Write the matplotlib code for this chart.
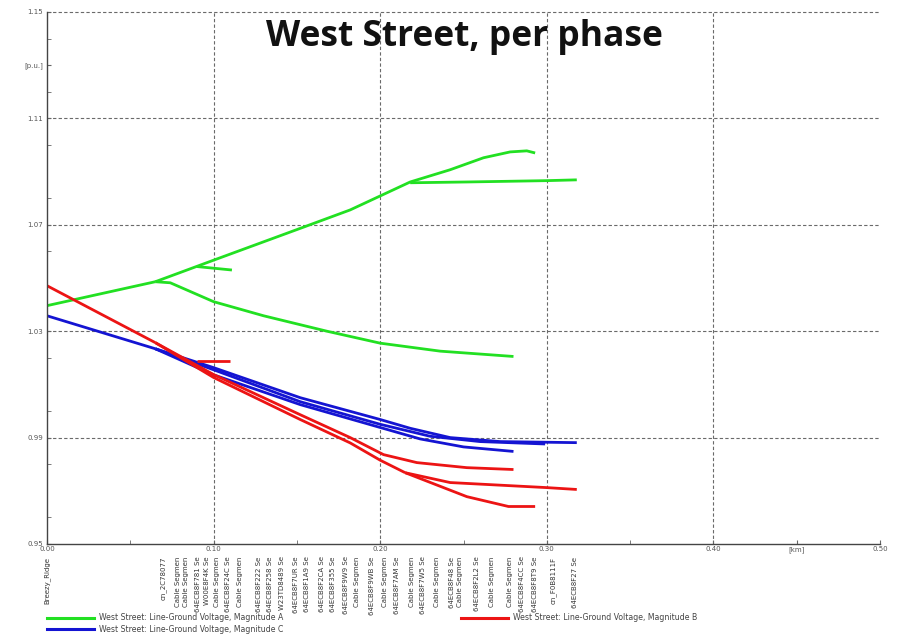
import matplotlib
matplotlib.use("Agg")
import matplotlib.pyplot as plt
from matplotlib.lines import Line2D
from matplotlib.ticker import FixedLocator, MultipleLocator

# ---- feeder voltage profile data (distance in km, voltage in p.u.) ----
# Phase A
a_trunk_km = [0.0, 0.065]
a_trunk_pu = [1.0396, 1.0486]
a_upper_km = [0.065, 0.10, 0.15, 0.182, 0.218, 0.242, 0.262, 0.278, 0.288, 0.293]
a_upper_pu = [1.0486, 1.0567, 1.0682, 1.0756, 1.0861, 1.0907, 1.0952, 1.0974, 1.0978, 1.0970]
a_flat_km = [0.218, 0.252, 0.300, 0.318]
a_flat_pu = [1.0858, 1.0861, 1.0866, 1.0869]
a_lower_km = [0.065, 0.074, 0.10, 0.13, 0.168, 0.20, 0.236, 0.28]
a_lower_pu = [1.0486, 1.0482, 1.0411, 1.0358, 1.0300, 1.0255, 1.0225, 1.0205]
a_spur_km = [0.090, 0.111]
a_spur_pu = [1.0543, 1.0530]

# Phase C
c_trunk_km = [0.0, 0.065]
c_trunk_pu = [1.0358, 1.0234]
c_upper_km = [0.065, 0.10, 0.152, 0.20, 0.218, 0.242, 0.272, 0.318]
c_upper_pu = [1.0234, 1.0163, 1.0050, 0.9968, 0.9935, 0.9900, 0.9885, 0.9881]
c_mid_km = [0.065, 0.10, 0.152, 0.20, 0.23, 0.26, 0.299]
c_mid_pu = [1.0234, 1.0155, 1.0035, 0.9950, 0.9905, 0.9885, 0.9876]
c_lower_km = [0.065, 0.10, 0.152, 0.20, 0.224, 0.25, 0.28]
c_lower_pu = [1.0234, 1.0136, 1.0024, 0.9938, 0.9895, 0.9865, 0.9848]

# Phase B
b_trunk_km = [0.0, 0.065]
b_trunk_pu = [1.0471, 1.0257]
b_upper_km = [0.065, 0.10, 0.152, 0.182, 0.202, 0.222, 0.252, 0.28]
b_upper_pu = [1.0257, 1.0137, 0.9986, 0.9900, 0.9836, 0.9806, 0.9787, 0.9780]
b_shared_km = [0.065, 0.10, 0.152, 0.182, 0.20, 0.215]
b_shared_pu = [1.0257, 1.0126, 0.9968, 0.9880, 0.9815, 0.9768]
b_flat_km = [0.215, 0.242, 0.30, 0.318]
b_flat_pu = [0.9768, 0.9731, 0.9712, 0.9705]
b_down_km = [0.215, 0.252, 0.277, 0.293]
b_down_pu = [0.9768, 0.9678, 0.9641, 0.9641]
b_spur_km = [0.090, 0.110]
b_spur_pu = [1.0188, 1.0188]

# Node names along the feeder
node_km = [0.0, 0.0696, 0.0786, 0.0834, 0.0906, 0.096, 0.102, 0.1086, 0.1158,
           0.1272, 0.1338, 0.141, 0.1494, 0.156, 0.165, 0.1716, 0.1794, 0.186,
           0.195, 0.2028, 0.21, 0.219, 0.2256, 0.234, 0.243, 0.2478, 0.258,
           0.267, 0.2778, 0.285, 0.2928, 0.3036, 0.3168]
node_names = ["Breezy_Ridge", "cn_2C78077", "Cable Segmen", "Cable Segmen",
              "64ECB8F781 Se", "W00E8F4K Se", "Cable Segmen", "64ECB8F24C Se",
              "Cable Segmen", "64ECB8F222 Se", "64ECB8F258 Se", "W23TD8489 Se",
              "64ECB8F7UR Se", "64ECB8F1A9 Se", "64ECB8F2CA Se", "64ECB8F355 Se",
              "64ECB8F9W9 Se", "Cable Segmen", "64ECB8F9WB Se", "Cable Segmen",
              "64ECB8F7AM Se", "Cable Segmen", "64ECB8F7W5 Se", "Cable Segmen",
              "64ECB8F48 Se", "Cable Segmen", "64ECB8F2L2 Se", "Cable Segmen",
              "Cable Segmen", "64ECB8F4CC Se", "64ECB8F8T9 Se", "cn_F0B8111F",
              "64ECB8F27 Se"]

x_tick_values = [0.0, 0.1, 0.2, 0.3, 0.4, 0.45, 0.5]
x_tick_labels = ["0.00", "0.10", "0.20", "0.30", "0.40", "[km]", "0.50"]
y_tick_values = [0.95, 0.99, 1.03, 1.07, 1.11, 1.13, 1.15]
y_tick_labels = ["0.95", "0.99", "1.03", "1.07", "1.11", "[p.u.]", "1.15"]

legend_labels = ["West Street: Line-Ground Voltage, Magnitude A",
                 "West Street: Line-Ground Voltage, Magnitude C",
                 "West Street: Line-Ground Voltage, Magnitude B"]

GREEN = "#22e022"
BLUE = "#1414d2"
RED = "#ec1414"
GRID = "#6a6a6a"
TXT = "#555555"

fig = plt.figure(figsize=(8.99, 6.35), dpi=100)
ax = fig.add_axes([47 / 899, 1 - 544 / 635, (880 - 47) / 899, (544 - 12) / 635])

lw = 2.0
for km, pu in [(a_trunk_km, a_trunk_pu), (a_upper_km, a_upper_pu),
               (a_flat_km, a_flat_pu), (a_lower_km, a_lower_pu),
               (a_spur_km, a_spur_pu)]:
    ax.plot(km, pu, color=GREEN, lw=lw, solid_capstyle="butt")
for km, pu in [(c_trunk_km, c_trunk_pu), (c_upper_km, c_upper_pu),
               (c_mid_km, c_mid_pu), (c_lower_km, c_lower_pu)]:
    ax.plot(km, pu, color=BLUE, lw=lw, solid_capstyle="butt")
for km, pu in [(b_trunk_km, b_trunk_pu), (b_upper_km, b_upper_pu),
               (b_shared_km, b_shared_pu), (b_flat_km, b_flat_pu),
               (b_down_km, b_down_pu), (b_spur_km, b_spur_pu)]:
    ax.plot(km, pu, color=RED, lw=lw, solid_capstyle="butt")

ax.set_xlim(0, 0.5)
ax.set_ylim(0.95, 1.15)

# dashed grid
for gx in [0.1, 0.2, 0.3, 0.4]:
    ax.axvline(gx, color=GRID, lw=0.8, ls=(0, (3, 2)), zorder=0)
for gy in [0.99, 1.03, 1.07, 1.11, 1.15]:
    ax.axhline(gy, color=GRID, lw=0.8, ls=(0, (3, 2)), zorder=0, clip_on=False)

for side in ["top", "right"]:
    ax.spines[side].set_visible(False)
for side in ["left", "bottom"]:
    ax.spines[side].set_color("#444444")
    ax.spines[side].set_linewidth(1.0)

ax.xaxis.set_major_locator(FixedLocator(x_tick_values))
ax.set_xticklabels(x_tick_labels)
ax.xaxis.set_minor_locator(MultipleLocator(0.05))
ax.yaxis.set_major_locator(FixedLocator(y_tick_values))
ax.set_yticklabels(y_tick_labels)
ax.yaxis.set_minor_locator(MultipleLocator(0.02))
ax.tick_params(axis="both", which="both", direction="in", length=3,
               color="#666666", labelsize=5, labelcolor=TXT, pad=3)
ax.tick_params(axis="x", which="major", pad=1.5)

# node names under the distance axis
for d, name in zip(node_km, node_names):
    ax.annotate(name, xy=(d, 0), xycoords=("data", "axes fraction"),
                xytext=(0, -9), textcoords="offset points", rotation=90,
                ha="center", va="top", fontsize=5.0, color="#333333")

fig.text(464 / 899, 1 - 37 / 635, "West Street, per phase", ha="center",
         va="center", fontsize=25.5, fontweight="bold", family="Open Sans",
         color="#111111")

handles = [Line2D([], [], color=GREEN, lw=2.2),
           Line2D([], [], color=BLUE, lw=2.2),
           Line2D([], [], color=RED, lw=2.2)]
fig.legend(handles, legend_labels, ncol=2, loc="upper left",
           bbox_to_anchor=(45 / 899, 1 - 611 / 635), frameon=False,
           fontsize=5.6, handlelength=6.0, columnspacing=22.8,
           labelspacing=0.35, handletextpad=0.7, labelcolor="#444444",
           borderaxespad=0, borderpad=0.3)

fig.savefig("out.png", dpi=100)
